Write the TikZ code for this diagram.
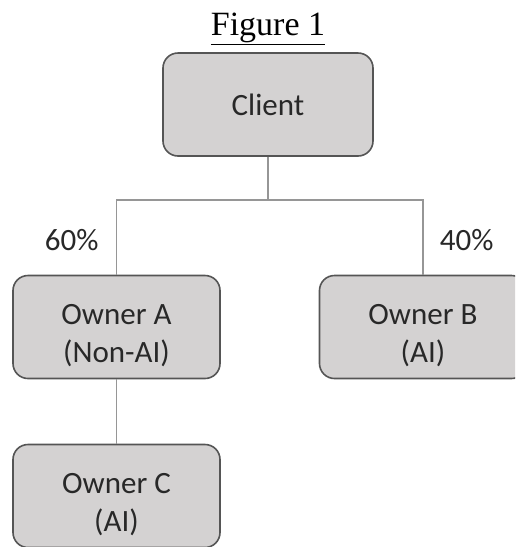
\documentclass[tikz,border=0pt]{standalone}
\usepackage{fontspec}
\setmainfont{Carlito}
\newfontfamily\titlefont{Liberation Serif}
\definecolor{boxfill}{RGB}{212,210,210}
\definecolor{boxline}{RGB}{85,85,85}
\definecolor{linkgray}{RGB}{150,150,150}
\definecolor{textgray}{RGB}{40,40,40}

\begin{document}
\begin{tikzpicture}[x=1pt, y=-1pt, block/.style={draw=boxline, line width=1.6pt, fill=boxfill, rounded corners=15pt, minimum width=207pt, minimum height=103pt, align=center, text=textgray, font=\fontsize{31}{38}\selectfont}, link/.style={draw=linkgray, line width=1.3pt}, pct/.style={text=textgray, font=\fontsize{31}{38}\selectfont}]
        \useasboundingbox (0,0) rectangle (515,547);
        \clip (0,0) rectangle (515,547);
        \node[anchor=base, font=\titlefont\fontsize{34}{40}\selectfont] (title) at (268,35) {\underline{Figure 1}};
        \node[block, minimum width=210pt] (client) at (268,104.5) {Client};
        \node[block] (ownera) at (116.5,327) {\rule{0pt}{37pt}Owner A\\(Non-AI)};
        \node[block, right of=ownera, node distance=306.5pt] (ownerb) {\rule{0pt}{37pt}Owner B\\(AI)};
        \node[block, below of=ownera, node distance=169pt] (ownerc) {\rule{0pt}{37pt}Owner C\\(AI)};
        \coordinate (split) at (268,200);
        \draw[link] (client) -- (split);
        \draw[link] (split) -| node[pct, pos=0.77, left=14pt] {60\%} (ownera);
        \draw[link] (split) -| node[pct, pos=0.77, right=13pt] {40\%} (ownerb);
        \draw[link] (ownera) -- (ownerc);
      \end{tikzpicture}
\end{document}
